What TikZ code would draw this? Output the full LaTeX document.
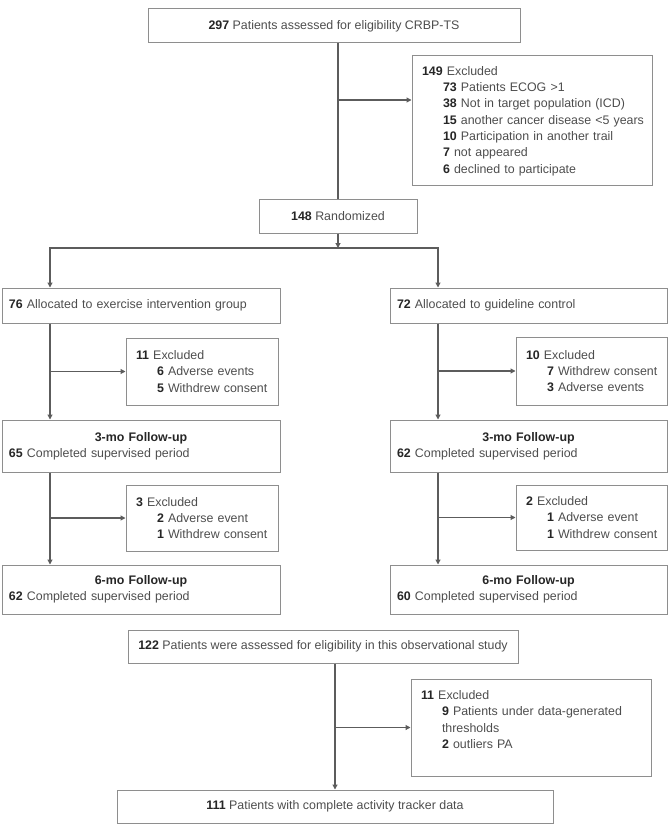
\documentclass[tikz,border=0pt]{standalone}
\usepackage{fontspec}
\setmainfont{Liberation Sans}
\usepackage{tikz}
\usetikzlibrary{arrows.meta}
\definecolor{FrameGray}{HTML}{8E8E8E}
\definecolor{LinkGray}{HTML}{5C5C5C}
\definecolor{TextGray}{HTML}{4D4D4D}
\newcommand{\nb}[1]{\textbf{\color{black!85}#1}}
\newcommand{\sitem}[2]{\mbox{\hspace*{21pt}\nb{#1} #2}}

\begin{document}
\begin{tikzpicture}[x=1pt,y=-1pt,
    font=\fontsize{12.4}{16.3}\selectfont,text=TextGray,
    flowbox/.style={draw=FrameGray,line width=1pt,inner sep=0pt,align=center},
    leftbox/.style={flowbox,align=left,inner xsep=7pt},
    exbox/.style={flowbox,align=left,inner xsep=10pt},
    link/.style={draw=LinkGray,line width=1.1pt},
    arr/.style={link,-{Triangle[length=5pt,width=5pt]}}]
      \useasboundingbox (0,0) rectangle (669,826);
      \node[flowbox,minimum width=372pt,minimum height=34pt] (elig) at (334,26)
      {\nb{297} Patients assessed for eligibility CRBP-TS};
      \node[exbox,text width=220pt,minimum height=130pt] (exElig) at (532,121)
      {\mbox{\nb{149} Excluded}\\
        \sitem{73}{Patients ECOG >1}\\
        \sitem{38}{Not in target population (ICD)}\\
        \sitem{15}{another cancer disease <5 years}\\
        \sitem{10}{Participation in another trail}\\
        \sitem{7}{not appeared}\\
        \sitem{6}{declined to participate}};
      \node[flowbox,minimum width=158pt,minimum height=33pt] (rand) at (338,216.5)
      {\nb{148} Randomized};
      \node[leftbox,text width=264pt,minimum height=35pt] (allocL) at (141,305.5)
      {\nb{76} Allocated to exercise intervention group};
      \node[leftbox,text width=263pt,minimum height=35pt] (allocR) at (528.5,305.5)
      {\nb{72} Allocated to guideline control};
      \node[exbox,text width=132pt,minimum height=67pt] (exL1) at (202,371.5)
      {\mbox{\nb{11} Excluded}\\ \sitem{6}{Adverse events}\\ \sitem{5}{Withdrew consent}};
      \node[exbox,text width=131pt,minimum height=68pt] (exR1) at (591.5,371)
      {\mbox{\nb{10} Excluded}\\ \sitem{7}{Withdrew consent}\\ \sitem{3}{Adverse events}};
      \node[leftbox,text width=264pt,minimum height=52pt] (fu3L) at (141,446)
      {\makebox[\linewidth]{\nb{3-mo Follow-up}}\\ \nb{65} Completed supervised period};
      \node[leftbox,text width=263pt,minimum height=52pt] (fu3R) at (528.5,446)
      {\makebox[\linewidth]{\nb{3-mo Follow-up}}\\ \nb{62} Completed supervised period};
      \node[exbox,text width=132pt,minimum height=66pt] (exL2) at (202,518)
      {\mbox{\nb{3} Excluded}\\ \sitem{2}{Adverse event}\\ \sitem{1}{Withdrew consent}};
      \node[exbox,text width=131pt,minimum height=65pt] (exR2) at (591.5,517.5)
      {\mbox{\nb{2} Excluded}\\ \sitem{1}{Adverse event}\\ \sitem{1}{Withdrew consent}};
      \node[leftbox,text width=264pt,minimum height=49pt] (fu6L) at (141,589.5)
      {\makebox[\linewidth]{\nb{6-mo Follow-up}}\\ \nb{62} Completed supervised period};
      \node[leftbox,text width=263pt,minimum height=49pt] (fu6R) at (528.5,589.5)
      {\makebox[\linewidth]{\nb{6-mo Follow-up}}\\ \nb{60} Completed supervised period};
      \node[flowbox,minimum width=390pt,minimum height=33pt] (obs) at (323,646.5)
      {\nb{122} Patients were assessed for eligibility in this observational study};
      \node[exbox,text width=220pt,minimum height=97pt] (exObs) at (531,727.5)
      {\mbox{\nb{11} Excluded}\\
        \sitem{9}{Patients under data-generated}\\
        \mbox{\hspace*{21pt}thresholds}\\
        \sitem{2}{outliers PA}\\ \mbox{}};
      \node[flowbox,minimum width=436pt,minimum height=33pt] (fin) at (335,806.5)
      {\nb{111} Patients with complete activity tracker data};
      \coordinate (brElig) at (338,100);
      \coordinate (split) at (338,248);
      \coordinate (colL) at (50,0);
      \coordinate (colR) at (438,0);
      \draw[link] (rand.north |- elig.south) -- (rand.north);
      \draw[arr] (brElig) -- (brElig -| exElig.west);
      \draw[arr] (rand.south) -- (split);
      \draw[arr] (split) -| (colL |- allocL.north);
      \draw[arr] (split) -| (colR |- allocR.north);
      \foreach \side/\col in {L/colL,R/colR}{
        \draw[arr] (\col |- alloc\side.south) -- (\col |- fu3\side.north);
        \draw[arr] (\col |- ex\side1.west) -- (ex\side1.west);
        \draw[arr] (\col |- fu3\side.south) -- (\col |- fu6\side.north);
        \draw[arr] (\col |- ex\side2.west) -- (ex\side2.west);
      }
      \draw[arr] (fin.north |- obs.south) -- (fin.north);
      \draw[arr] (fin.north |- exObs.west) -- (exObs.west);
    \end{tikzpicture}
\end{document}
